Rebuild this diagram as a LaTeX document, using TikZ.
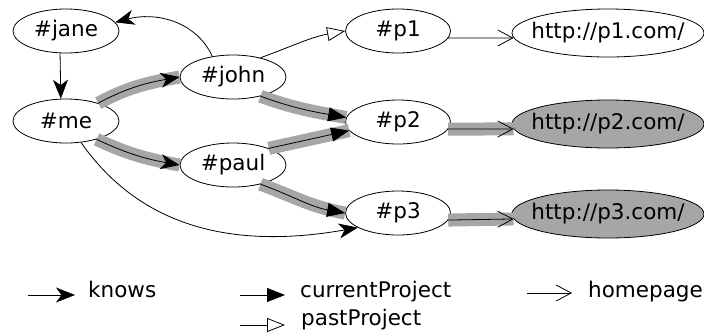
\documentclass[tikz,border=0pt]{standalone}
\usepackage{fontspec}
\setmainfont{DejaVu Sans}
\usetikzlibrary{arrows.meta,shapes.geometric}
\definecolor{hl}{RGB}{166,166,166}
\begin{document}
\begin{tikzpicture}[x=1pt,y=1pt,
  every node/.style={font=\fontsize{21.5}{25}\selectfont},
  nd/.style={ellipse, draw, line width=0.8pt, minimum width=106pt, minimum height=44pt, inner sep=0pt},
  url/.style={nd, minimum width=192pt, minimum height=48pt, inner xsep=-9pt},
  knows/.style={-{Stealth[length=19pt,width=15pt,inset=5.5pt]}, line width=0.8pt},
  cur/.style={-{Triangle[length=18pt,width=14pt]}, line width=0.8pt},
  past/.style={-{Triangle[open,length=18pt,width=14pt]}, line width=0.8pt},
  home/.style={-{Straight Barb[length=15pt,width=16pt]}, line width=0.8pt},
  hlt/.style={draw=hl, line width=13pt},
  lbl/.style={anchor=base west, inner sep=0pt}
]
\useasboundingbox (0,0) rectangle (704,-333);
\node[nd] (jane) at (66,-31) {\#jane};
\node[nd] (me) at (66,-121) {\#me};
\node[nd] (john) at (233,-77) {\#john};
\node[nd] (paul) at (233,-165) {\#paul};
\node[nd, minimum width=105pt] (p1) at (398,-31) {\#p1};
\node[nd, minimum width=105pt] (p2) at (398,-122) {\#p2};
\node[nd, minimum width=105pt] (p3) at (398,-213) {\#p3};

% highlight bands
\begin{scope}[yshift=-2pt]
\draw[hlt] (me.29) to[out=28,in=190] (john.west);
\draw[hlt] (me.-31) to[out=-25,in=170] (paul.west);
\draw[hlt] (john.-35) to[out=-20,in=170] (p2.175);
\draw[hlt] (paul.25) -- (p2.190);
\draw[hlt] (paul.-35) to[out=-20,in=170] (p3.180);
\end{scope}
\node[url] (h1) at (608,-33) {http://p1.com/};
\node[url, fill=hl] (h2) at (608,-124) {http://p2.com/};
\node[url, fill=hl] (h3) at (608,-214) {http://p3.com/};
\begin{scope}[yshift=-2pt]
\draw[hlt] (p2.-8) -- (h2.183);
\draw[hlt] (p3.-8) -- (h3.183);
\end{scope}

\draw[knows] (john.135) to[out=115,in=15] (jane.10);
\draw[knows] (jane.255) -- (me.103);
\draw[knows] (me.29) to[out=28,in=190] (john.west);
\draw[knows] (me.-31) to[out=-25,in=170] (paul.west);
\draw[knows] (me.-55) to[out=-55,in=190] (p3.200);
\draw[past] (john.35) to[out=20,in=190] (p1.west);
\draw[cur] (john.-35) to[out=-20,in=170] (p2.175);
\draw[cur] (paul.25) -- (p2.190);
\draw[cur] (paul.-35) to[out=-20,in=170] (p3.180);
\draw[home] (p1.-8) -- (h1.183);
\draw[home] (p2.-8) -- (h2.183);
\draw[home] (p3.-8) -- (h3.183);

\coordinate (k1) at (28,-295); \coordinate (k2) at (75,-295);
\draw[knows] (k1) -- (k2);
\node[lbl] (kt) at (88,-297) {knows};
\coordinate (c1) at (240,-295); \coordinate (c2) at (285,-295);
\draw[cur] (c1) -- (c2);
\node[lbl] (ct) at (300,-297) {currentProject};
\coordinate (q1) at (240,-325); \coordinate (q2) at (285,-325);
\draw[past] (q1) -- (q2);
\node[lbl] (qt) at (301,-325) {pastProject};
\coordinate (m1) at (527,-293); \coordinate (m2) at (572,-293);
\draw[home] (m1) -- (m2);
\node[lbl] (mt) at (588,-297) {homepage};
\end{tikzpicture}
\end{document}
